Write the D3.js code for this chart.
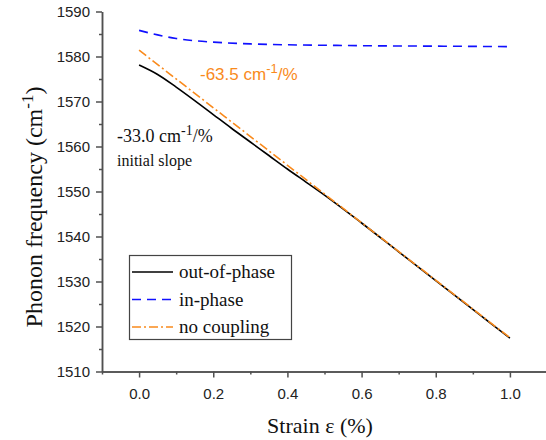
<!DOCTYPE html>
<html>
<head>
<meta charset="utf-8">
<script src="https://cdn.jsdelivr.net/npm/d3@7"></script>
<style>
  body { margin: 0; background: #fff; }
  svg { display: block; }
</style>
</head>
<body>
<svg id="chart" width="546" height="440"></svg>
<script>
// strain values (%) and phonon frequencies (cm-1)
var strainOut = [0, 0.05, 0.1, 0.15, 0.2, 0.25, 0.3, 0.35, 0.4, 0.45, 0.5, 0.6, 0.7, 0.8, 0.9, 1.0]
var outOfPhase = [1578.1, 1576.0, 1573.2, 1570.2, 1567.1, 1564.0, 1561.0, 1558.0, 1555.0, 1552.1, 1549.2, 1543.0, 1536.6, 1530.2, 1523.8, 1517.4]

var strainIn = [0, 0.05, 0.1, 0.15, 0.2, 0.3, 0.4, 0.5, 0.6, 0.8, 1.0]
var inPhase = [1585.8, 1584.8, 1584.0, 1583.5, 1583.2, 1582.8, 1582.6, 1582.5, 1582.4, 1582.3, 1582.2]

var strainNo = [0, 0.5, 1.0]
var noCoupling = [1581.4, 1549.45, 1517.5]

var xTicks = [0, 0.2, 0.4, 0.6, 0.8, 1.0]
var yTicks = [1510, 1520, 1530, 1540, 1550, 1560, 1570, 1580, 1590]

var legendNames = ["out-of-phase", "in-phase", "no coupling"]

var orange = "#f98a1c"
var axisColor = "#505050"
var serif = "'Liberation Serif', 'Times New Roman', serif"
var sans = "'Liberation Sans', Arial, sans-serif"

var svg = d3.select("#chart")

var x = d3.scaleLinear().domain([-0.1, 1.1]).range([102, 547])
var y = d3.scaleLinear().domain([1510, 1590]).range([371.5, 11.5])

// axes
var xAxis = svg.append("g")
  .attr("transform", "translate(0," + y(1510) + ")")
  .call(d3.axisBottom(x).tickValues(xTicks).tickFormat(d3.format(".1f")).tickSize(6).tickSizeOuter(0))
var xMinor = svg.append("g")
  .attr("transform", "translate(0," + y(1510) + ")")
  .call(d3.axisBottom(x).tickValues([-0.1, 0.1, 0.3, 0.5, 0.7, 0.9, 1.1]).tickFormat("").tickSize(3).tickSizeOuter(0))

var yAxis = svg.append("g")
  .attr("transform", "translate(" + x(-0.1) + ",0)")
  .call(d3.axisLeft(y).tickValues(yTicks).tickFormat(d3.format("d")).tickSize(6).tickSizeOuter(0))
var yMinor = svg.append("g")
  .attr("transform", "translate(" + x(-0.1) + ",0)")
  .call(d3.axisLeft(y).tickValues([1515, 1525, 1535, 1545, 1555, 1565, 1575, 1585]).tickFormat("").tickSize(3).tickSizeOuter(0))

;[xAxis, xMinor, yAxis, yMinor].forEach(function(g){
  g.selectAll("path, line").attr("stroke", axisColor).attr("stroke-width", 1.5)
  g.selectAll("text")
    .attr("fill", "#222")
    .attr("font-family", sans)
    .attr("font-size", 15)
})
xAxis.selectAll("text").attr("dy", "1.25em")
yAxis.selectAll("text").attr("dx", "-0.2em")

// axis titles
svg.append("text")
  .attr("x", 320).attr("y", 433)
  .attr("text-anchor", "middle")
  .attr("font-family", serif)
  .attr("font-size", 22)
  .attr("fill", "#111")
  .text("Strain ε (%)")

var yTitle = svg.append("text")
  .attr("transform", "translate(42,207) rotate(-90)")
  .attr("text-anchor", "middle")
  .attr("font-family", serif)
  .attr("font-size", 24)
  .attr("fill", "#111")
yTitle.append("tspan").text("Phonon frequency (cm")
yTitle.append("tspan").attr("dy", -9).attr("font-size", 17).text("-1")
yTitle.append("tspan").attr("dy", 9).text(")")

// lines
var line = d3.line()
  .curve(d3.curveMonotoneX)
  .x(d => x(d[0]))
  .y(d => y(d[1]))

var series = [
  {name: legendNames[0], xs: strainOut, ys: outOfPhase, color: "#000", dash: null},
  {name: legendNames[1], xs: strainIn, ys: inPhase, color: "#1010ff", dash: "9,6"},
  {name: legendNames[2], xs: strainNo, ys: noCoupling, color: orange, dash: "9,3,2,3"}
]

svg.append("g")
  .selectAll("path")
  .data(series)
  .join("path")
  .attr("d", d => line(d.xs.map((v, i) => [v, d.ys[i]])))
  .attr("fill", "none")
  .attr("stroke", d => d.color)
  .attr("stroke-width", 1.6)
  .attr("stroke-dasharray", d => d.dash)

// annotations
var ann1 = svg.append("text")
  .attr("x", 200).attr("y", 80)
  .attr("font-family", sans)
  .attr("font-size", 17)
  .attr("fill", orange)
ann1.append("tspan").text("-63.5 cm")
ann1.append("tspan").attr("dy", -7).attr("font-size", 13).text("-1")
ann1.append("tspan").attr("dy", 7).text("/%")

var ann2 = svg.append("text")
  .attr("x", 117).attr("y", 142)
  .attr("font-family", serif)
  .attr("font-size", 18)
  .attr("fill", "#111")
ann2.append("tspan").text("-33.0 cm")
ann2.append("tspan").attr("dy", -7).attr("font-size", 14).text("-1")
ann2.append("tspan").attr("dy", 7).text("/%")

svg.append("text")
  .attr("x", 117).attr("y", 166)
  .attr("font-family", serif)
  .attr("font-size", 16)
  .attr("fill", "#111")
  .text("initial slope")

// legend
var legend = svg.append("g")
legend.append("rect")
  .attr("x", 129.5).attr("y", 255.5)
  .attr("width", 162).attr("height", 84)
  .attr("fill", "#fff")
  .attr("stroke", "#444")
  .attr("stroke-width", 1.2)

var rows = legend.selectAll("g.row")
  .data(series)
  .join("g")
  .attr("class", "row")
  .attr("transform", (d, i) => "translate(0," + (272 + i * 27.5) + ")")
rows.append("line")
  .attr("x1", 132).attr("x2", 173)
  .attr("stroke", d => d.color)
  .attr("stroke-width", 1.6)
  .attr("stroke-dasharray", d => d.dash)
rows.append("text")
  .attr("x", 179).attr("y", 6)
  .attr("font-family", serif)
  .attr("font-size", 19)
  .attr("fill", "#111")
  .text(d => d.name)
</script>
</body>
</html>
